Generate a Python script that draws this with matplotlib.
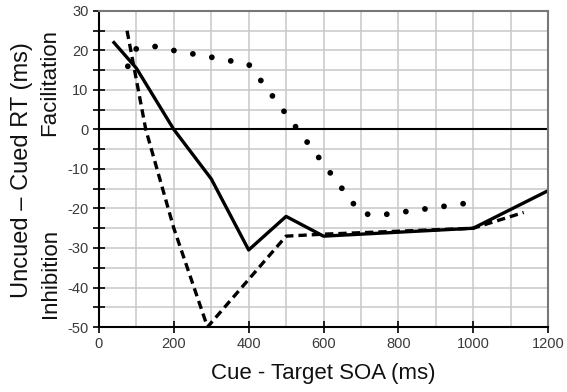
import numpy as np
import matplotlib
matplotlib.use('Agg')
from matplotlib import pyplot as plt
from matplotlib.ticker import MultipleLocator

plt.rcParams['font.family'] = ['Liberation Sans', 'DejaVu Sans']
plt.rcParams['axes.unicode_minus'] = False

# solid line
solid_x = [40, 100, 200, 300, 400, 500, 600, 1000, 1200]
solid_y = [22, 15.5, 0, -12.5, -30.5, -22, -27, -25, -15.5]

# dashed line
dash_x = [75, 125, 200, 290, 500, 600, 1000, 1135]
dash_y = [25, 0, -25, -50, -27, -26.5, -25, -21]

# dotted line
dot_x = [77, 100, 150, 200, 300, 400, 700, 750, 995]
dot_y = [16, 20.5, 21, 20, 18.3, 16.5, -21.3, -21.7, -18.5]

fig = plt.figure(figsize=(5.67, 3.92), dpi=100)
ax = fig.add_axes([0.1746, 0.1658, 0.7919, 0.8062])

ax.plot(solid_x, solid_y, color='black', lw=2.4)
ax.plot(dash_x, dash_y, color='black', lw=2.4, linestyle=(0, (2.5, 1.5)))
ax.plot(dot_x, dot_y, color='black', lw=4.2, linestyle=(0, (0.001, 3.3)),
        dash_capstyle='round')
ax.axhline(0, color='black', lw=1.5)

ax.set_xlim(0, 1200)
ax.set_ylim(-50, 30)
ax.xaxis.set_major_locator(MultipleLocator(200))
ax.xaxis.set_minor_locator(MultipleLocator(100))
ax.yaxis.set_major_locator(MultipleLocator(10))
ax.yaxis.set_minor_locator(MultipleLocator(5))

ax.grid(True, which='both', color='#c8c8c8', lw=1.1)
ax.set_axisbelow(True)

ax.tick_params(axis='both', which='major', direction='inout', length=8,
               width=1.2, labelsize=10.5, labelcolor='#3a3a3a')
ax.tick_params(axis='y', which='minor', direction='inout', length=8, width=1.2)
ax.tick_params(axis='x', which='minor', length=0)

for s in ['left', 'bottom']:
    ax.spines[s].set_color('black')
    ax.spines[s].set_linewidth(1.5)
for s in ['top', 'right']:
    ax.spines[s].set_color('#777777')
    ax.spines[s].set_linewidth(1.5)

ax.set_xlabel('Cue - Target SOA (ms)', fontsize=16, color='#111111', labelpad=8)

fig.text(22 / 567, 1 - 170 / 392, 'Uncued \u2013 Cued RT (ms)', rotation=90,
         ha='center', va='center', fontsize=17, color='#111111')
fig.text(50 / 567, 1 - 83 / 392, 'Facilitation', rotation=90,
         ha='center', va='center', fontsize=16, color='#111111')
fig.text(50 / 567, 1 - 273 / 392, 'Inhibition', rotation=90,
         ha='center', va='center', fontsize=16, color='#111111')

fig.savefig('out.png', dpi=100)
